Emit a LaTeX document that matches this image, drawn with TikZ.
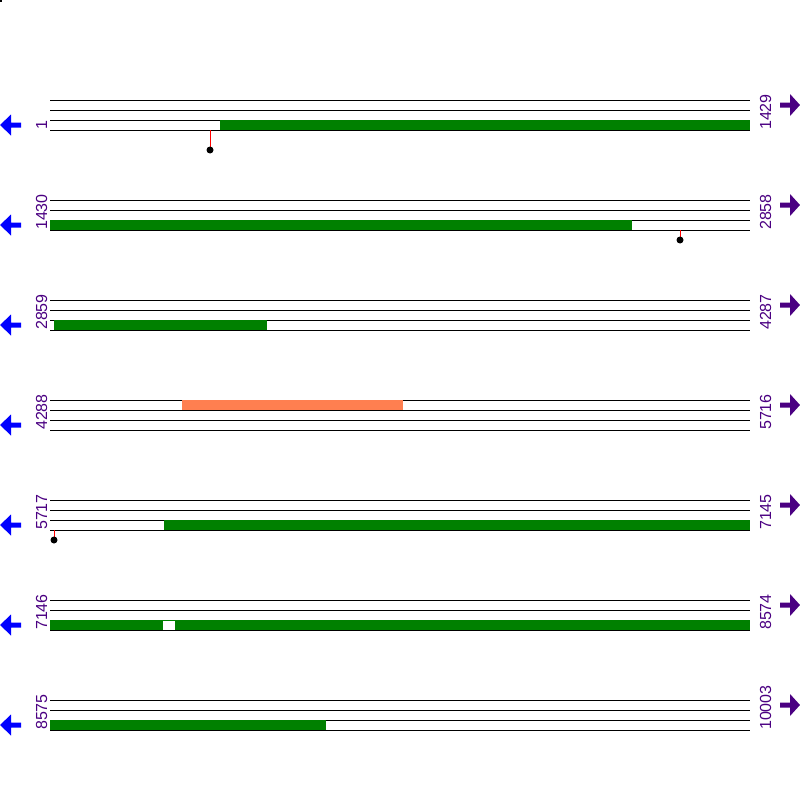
\documentclass[tikz,border=0pt]{standalone}
\usepackage{fontspec}
\setmainfont{Liberation Sans}
\definecolor{lblpurple}{RGB}{75,0,130}
\definecolor{featgreen}{RGB}{0,128,0}
\definecolor{featcoral}{RGB}{255,127,80}
\begin{document}
\begin{tikzpicture}[x=1pt,y=-1pt,
  track/.style={draw=black,line width=1pt},
  greenbar/.style={fill=featgreen},
  coralbar/.style={fill=featcoral},
  lolli/.style={draw=red,line width=1pt},
  lollidot/.style={fill=black},
  numlabel/.style={rotate=90,anchor=base west,inner sep=0pt,text=lblpurple,font=\fontsize{16}{16}\selectfont},
  leftarrow/.style={fill=blue},
  rightarrow/.style={fill=lblpurple}]
\useasboundingbox (0,0) rectangle (800,800);
\fill[white] (0,0) rectangle (800,800);
\fill[black] (0,0) rectangle (2,2);
% tracks
\foreach \r in {0,...,6}{
  \foreach \k in {0,...,3}{
    \draw[track] (50,{100+100*\r+10*\k}) -- (750,{100+100*\r+10*\k});
  }
  \fill[leftarrow] (0,{125+100*\r}) -- (11,{114.5+100*\r}) -- (11,{122.5+100*\r}) -- (21,{122.5+100*\r}) -- (21,{127.5+100*\r}) -- (11,{127.5+100*\r}) -- (11,{135.5+100*\r}) -- cycle;
  \fill[rightarrow] (800,{105+100*\r}) -- (790,{94+100*\r}) -- (790,{102.5+100*\r}) -- (780,{102.5+100*\r}) -- (780,{107.5+100*\r}) -- (790,{107.5+100*\r}) -- (790,{116+100*\r}) -- cycle;
}
% features
\fill[greenbar] (220,120) rectangle (750,130);
\fill[greenbar] (50,220) rectangle (632,230);
\fill[greenbar] (54,320) rectangle (267,330);
\fill[coralbar] (182,400) rectangle (403,410);
\fill[greenbar] (164,520) rectangle (750,530);
\fill[greenbar] (50,620) rectangle (750,630);
\fill[white] (163,620.5) rectangle (175,629.5);
\fill[greenbar] (50,720) rectangle (326,730);
% lollipops
\draw[lolli] (210,130) -- (210,150);
\fill[lollidot] (210,150) circle (3.5);
\draw[lolli] (680,230) -- (680,240);
\fill[lollidot] (680,240) circle (3.5);
\draw[lolli] (54,530) -- (54,540);
\fill[lollidot] (54,540) circle (3.5);
% labels
\node[numlabel] (l1) at (47,130) {1};
\node[numlabel] (r1) at (771,130) {1429};
\node[numlabel] (l2) at (47,230) {1430};
\node[numlabel] (r2) at (771,230) {2858};
\node[numlabel] (l3) at (47,330) {2859};
\node[numlabel] (r3) at (771,330) {4287};
\node[numlabel] (l4) at (47,430) {4288};
\node[numlabel] (r4) at (771,430) {5716};
\node[numlabel] (l5) at (47,530) {5717};
\node[numlabel] (r5) at (771,530) {7145};
\node[numlabel] (l6) at (47,630) {7146};
\node[numlabel] (r6) at (771,630) {8574};
\node[numlabel] (l7) at (47,730) {8575};
\node[numlabel] (r7) at (771,730) {10003};
\end{tikzpicture}
\end{document}
